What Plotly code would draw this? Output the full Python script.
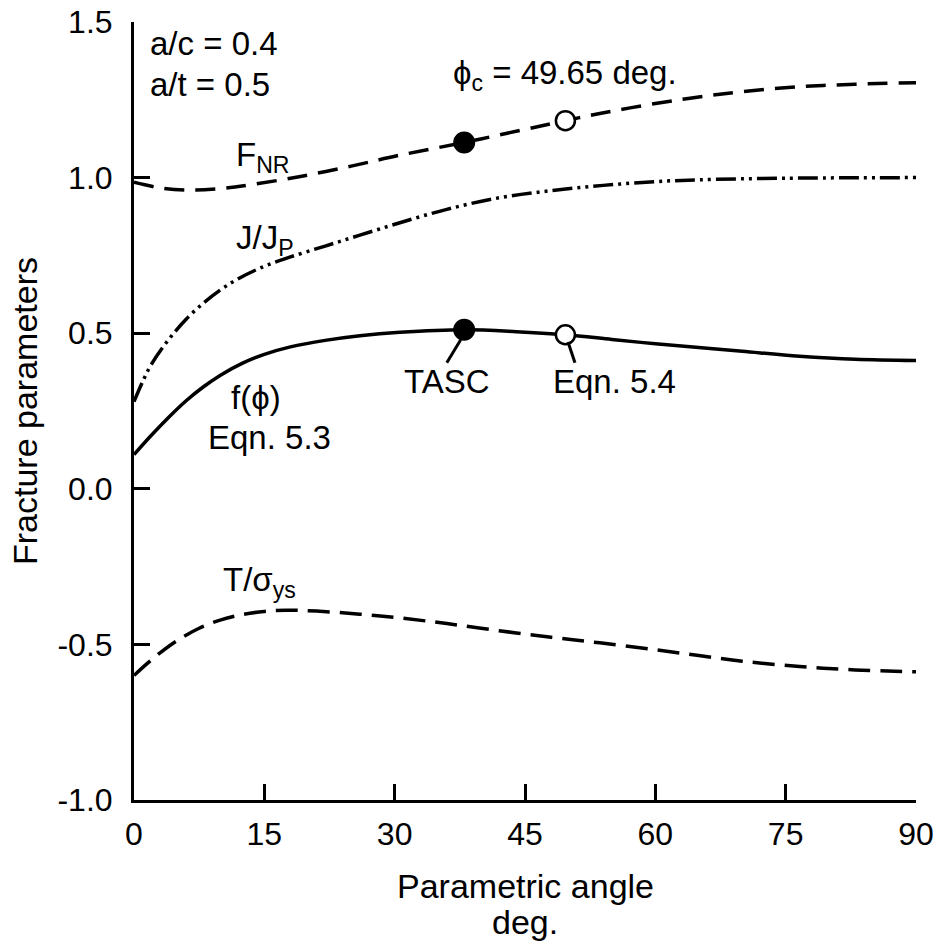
import plotly.graph_objects as go

# ---- data ----
fnr_x = [0, 3, 6.4, 10, 13.4, 19, 25, 30.6, 38, 45, 49.65, 53.6, 60, 65, 70, 76.6, 83, 90]
fnr_y = [0.985, 0.967, 0.960, 0.965, 0.977, 1.003, 1.037, 1.072, 1.113, 1.155, 1.183, 1.206, 1.238, 1.259, 1.276, 1.292, 1.300, 1.305]

jjp_x = [0, 1, 2, 4, 6, 8, 10, 12, 15, 18, 22, 26, 30.6, 36, 42, 48, 54, 60, 65, 75, 90]
jjp_y = [0.28, 0.345, 0.40, 0.48, 0.545, 0.597, 0.640, 0.675, 0.715, 0.745, 0.780, 0.815, 0.855, 0.898, 0.935, 0.958, 0.975, 0.987, 0.993, 0.998, 1.0]

f_x = [0, 2, 4, 6, 8, 10, 12.5, 15, 18, 22, 26, 30.6, 38, 44, 49.65, 55, 60, 65, 70, 76.6, 83, 90]
f_y = [0.11, 0.172, 0.230, 0.283, 0.328, 0.366, 0.404, 0.432, 0.456, 0.477, 0.492, 0.503, 0.511, 0.505, 0.495, 0.480, 0.466, 0.454, 0.442, 0.426, 0.416, 0.412]

t_x = [0, 1.5, 3, 5, 7.5, 10, 12.5, 15, 17.5, 21, 26, 30.6, 36, 42, 48, 53.6, 60, 65, 70, 76.6, 83, 90]
t_y = [-0.60, -0.562, -0.527, -0.487, -0.448, -0.421, -0.404, -0.394, -0.390, -0.393, -0.403, -0.415, -0.433, -0.456, -0.477, -0.495, -0.517, -0.536, -0.554, -0.571, -0.582, -0.588]

tasc_x = [38, 38]
tasc_y = [1.113, 0.511]
eqn54_x = [49.65, 49.65]
eqn54_y = [1.183, 0.495]

x_ticks = [0, 15, 30, 45, 60, 75, 90]
y_ticks = [-1.0, -0.5, 0.0, 0.5, 1.0, 1.5]

FONT = "Liberation Sans, Arial, sans-serif"

fig = go.Figure()

fig.add_trace(go.Scatter(x=fnr_x, y=fnr_y, mode="lines",
                         line=dict(color="black", width=3.5, dash="20px,11px", shape="spline", smoothing=1.0)))
fig.add_trace(go.Scatter(x=jjp_x, y=jjp_y, mode="lines",
                         line=dict(color="black", width=3.5, dash="20px,5px,3px,5px,3px,5px", shape="spline", smoothing=1.0)))
fig.add_trace(go.Scatter(x=f_x, y=f_y, mode="lines",
                         line=dict(color="black", width=3.5, shape="spline", smoothing=1.0)))
fig.add_trace(go.Scatter(x=t_x, y=t_y, mode="lines",
                         line=dict(color="black", width=3.5, dash="22px,10px", shape="spline", smoothing=1.0)))

fig.add_trace(go.Scatter(x=tasc_x, y=tasc_y, mode="markers",
                         marker=dict(size=20, color="black", line=dict(color="black", width=2))))
fig.add_trace(go.Scatter(x=eqn54_x, y=eqn54_y, mode="markers",
                         marker=dict(size=19, color="white", line=dict(color="black", width=2.5))))

# leader lines
fig.add_shape(type="line", x0=37.6, y0=0.479, x1=36.0, y1=0.405, line=dict(color="black", width=3))
fig.add_shape(type="line", x0=49.95, y0=0.472, x1=50.75, y1=0.405, line=dict(color="black", width=3))

def ann(text, x, y):
    fig.add_annotation(x=x, y=y, text=text, showarrow=False, xanchor="left", yanchor="middle",
                       font=dict(family=FONT, size=33, color="black"))

ann("a/c = 0.4", 1.6, 1.43)
ann("a/t = 0.5", 1.6, 1.30)
ann("ϕ<sub>c</sub> = 49.65 deg.", 36.5, 1.33)
ann("F<sub>NR</sub>", 11.5, 1.065)
ann("J/J<sub>P</sub>", 11.5, 0.80)
ann("f(ϕ)", 10.9, 0.292)
ann("Eqn. 5.3", 8.3, 0.164)
ann("TASC", 30.8, 0.344)
ann("Eqn. 5.4", 48.0, 0.344)
ann("T/σ<sub>ys</sub>", 10.0, -0.30)

# x-axis title (two tightly spaced lines)
for txt, yy in [("Parametric angle", -0.1105), ("deg.", -0.1568)]:
    fig.add_annotation(xref="paper", yref="paper", x=0.5, y=yy, xanchor="center", yanchor="middle",
                       text=txt, showarrow=False,
                       font=dict(family=FONT, size=34, color="black"))

fig.update_layout(
    width=940, height=951,
    margin=dict(l=134, r=24, t=22, b=151),
    paper_bgcolor="white", plot_bgcolor="white",
    showlegend=False,
    font=dict(family=FONT, size=32, color="black"),
)
fig.update_xaxes(range=[0, 90], tickvals=x_ticks, ticktext=[str(v) for v in x_ticks],
                 ticks="inside", ticklen=16, tickwidth=3, tickcolor="black",
                 showline=True, linewidth=3, linecolor="black", showgrid=False, zeroline=False,
                 tickfont=dict(size=32), ticklabelstandoff=4, automargin=False)
fig.update_yaxes(range=[-1.0, 1.5], tickvals=y_ticks, ticktext=[f"{v:.1f}" for v in y_ticks],
                 ticks="inside", ticklen=16, tickwidth=3, tickcolor="black",
                 showline=True, linewidth=3, linecolor="black", showgrid=False, zeroline=False,
                 tickfont=dict(size=32), ticklabelstandoff=12, automargin=False,
                 title=dict(text="Fracture parameters", font=dict(size=34), standoff=10))

fig.write_html("out.html")
